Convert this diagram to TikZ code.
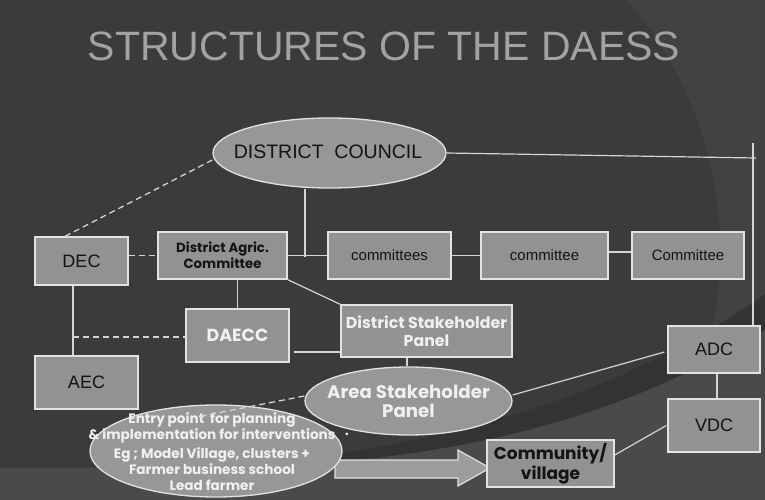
\documentclass[tikz,border=0pt]{standalone}
\usepackage{fontspec}
\setmainfont{Liberation Sans}
\newfontfamily\gothic{Poppins}
\usetikzlibrary{shapes.geometric,calc}
\definecolor{bg}{HTML}{3B3B3B}
\definecolor{bgright}{HTML}{424242}
\definecolor{bglow}{HTML}{4A4A4A}
\definecolor{bgshadow}{HTML}{333333}
\definecolor{boxfill}{HTML}{929292}
\definecolor{ellfill}{HTML}{979797}
\definecolor{boxline}{HTML}{E2E2E2}
\definecolor{conn}{HTML}{D4D4D4}
\definecolor{titlegray}{HTML}{A2A2A2}
\definecolor{darktext}{HTML}{141414}
\definecolor{lighttext}{HTML}{F0F0F0}
\definecolor{arrowfill}{HTML}{9C9C9C}
\tikzset{
  box/.style={draw=boxline, fill=boxfill, line width=1.3pt, rectangle, inner sep=0pt},
  ell/.style={draw=boxline, fill=ellfill, line width=1.3pt, ellipse, inner sep=0pt},
  arial/.style={text=darktext, font=\fontsize{18}{18}\selectfont},
  small/.style={text=darktext, font=\fontsize{15}{15}\selectfont},
  gdark/.style={text=darktext, align=center},
  glight/.style={text=lighttext, align=center},
  conline/.style={draw=conn, line width=1.2pt},
  dashline/.style={draw=conn, line width=1.3pt, dash pattern=on 6pt off 4pt}
}
\begin{document}
\begin{tikzpicture}[x=1pt,y=-1pt]
% background
\fill[bg] (0,0) rectangle (765,500);
\begin{scope}
  \clip (500,0) rectangle (765,500);
  \fill[bgright, even odd rule] (0,0) rectangle (765,500) (337,250) circle[radius=383];
\end{scope}
\begin{scope}
  \clip (0,0) rectangle (765,500);
  \fill[bgshadow] (240,467) .. controls (460,442) and (620,396) .. (765,294) -- (765,330)
     .. controls (620,420) and (450,462) .. (240,467) -- cycle;
  \fill[bglow] (0,468) -- (240,467) .. controls (450,462) and (620,420) .. (765,330)
     -- (765,500) -- (0,500) -- cycle;
\end{scope}
\useasboundingbox (0,0) rectangle (765,500);

% title
\node[text=titlegray, font=\fontsize{41}{41}\selectfont] (title) at (384,46) {STRUCTURES OF THE DAESS};

% nodes
\node[ell, minimum width=233pt, minimum height=70pt] (DC) at (329.5,153) {};
\node[text=darktext, font=\fontsize{19.5}{19.5}\selectfont] (DCt) at (328,152) {DISTRICT\ \ COUNCIL};

\node[box, minimum width=93pt, minimum height=48pt] (DEC) at (81.5,261) {};
\node[arial] (DECt) at (DEC.center) {DEC};
\node[box, minimum width=129pt, minimum height=47pt] (DAC) at (222.5,255.5) {};
\node[gdark, font=\gothic\bfseries\fontsize{13.3}{16}\selectfont] (DACt) at (DAC.center) {District Agric.\\Committee};
\node[box, minimum width=123pt, minimum height=47pt] (C1) at (389.5,255.5) {};
\node[small] (C1t) at (C1.center) {committees};
\node[box, minimum width=127pt, minimum height=47pt] (C2) at (544.5,255.5) {};
\node[small] (C2t) at (C2.center) {committee};
\node[box, minimum width=112pt, minimum height=47pt] (C3) at (688,255.5) {};
\node[small] (C3t) at (C3.center) {Committee};

\node[box, minimum width=103pt, minimum height=53pt] (DAECC) at (237.5,335.5) {};
\node[glight, font=\gothic\bfseries\fontsize{17.5}{17.5}\selectfont] (DAECCt) at (DAECC.center) {DAECC};
\node[box, minimum width=103pt, minimum height=53pt] (AEC) at (86.5,382.5) {};
\node[arial] (AECt) at (AEC.center) {AEC};
\node[box, minimum width=171pt, minimum height=52pt] (DSP) at (426.5,331) {};
\node[glight, font=\gothic\bfseries\fontsize{15.8}{18}\selectfont] (DSPt) at (DSP.center) {District Stakeholder\\Panel};

\node[box, minimum width=92pt, minimum height=47pt] (ADC) at (714,349.5) {};
\node[arial] (ADCt) at (ADC.center) {ADC};
\node[box, minimum width=92pt, minimum height=53pt] (VDC) at (714,425.5) {};
\node[arial] (VDCt) at (VDC.center) {VDC};

\node[ell, minimum width=207pt, minimum height=68pt] (ASP) at (408.5,401) {};
\node[glight, font=\gothic\bfseries\fontsize{18.2}{19}\selectfont] (ASPt) at (408.5,401) {Area Stakeholder\\Panel};

% big arrow
\draw[fill=arrowfill, draw=boxline, line width=1.2pt] (335,460) -- (458,460) -- (458,450) -- (490,468)
   -- (458,486) -- (458,478) -- (335,478) -- cycle;

\node[ell, minimum width=252pt, minimum height=92pt] (Entry) at (216,451) {};
\node[glight, font=\gothic\bfseries\fontsize{13.6}{16}\selectfont] (Entryt) at (212,452)
  {Entry point\ \ for planning\\\&~implementation for interventions\\[3pt]Eg ; Model Village, clusters +\\Farmer business school\\Lead farmer};
\node[text=lighttext, font=\gothic\bfseries\fontsize{13}{13}\selectfont] (dot) at (347,434) {.};

\node[box, minimum width=127pt, minimum height=47pt] (COM) at (550.5,463.5) {};
\node[gdark, font=\gothic\bfseries\fontsize{17}{20}\selectfont] (COMt) at (COM.center) {Community/\\village};

% connectors
\coordinate (j1) at (305,257);
\draw[conline] (j1 |- DC.south) -- (j1);
\draw[conline] (DAC.east) -- (C1.west);
\draw[conline] (C1.east) -- (C2.west);
\draw[conline] ([yshift=3.5pt]C2.east) -- ([yshift=3.5pt]C3.west);
\coordinate (rt) at (756,158);
\coordinate (vtop) at (753,143);
\draw[conline] (DC.east) -- (rt);
\draw[conline] (vtop) -- (vtop |- ADC.north);
\draw[dashline] ([xshift=-16.5pt]DEC.north) -- ([yshift=-7pt]DC.west);
\draw[dashline] (DAC.west -| DEC.east) -- (DAC.west);
\coordinate (x73) at (73,0);
\draw[conline] (DEC.south -| x73) -- (AEC.north -| x73);
\draw[dashline] ([yshift=-1.5pt]DAECC.west -| x73) -- ([yshift=-1.5pt]DAECC.west);
\draw[conline] (DAECC.north |- DAC.south) -- (DAECC.north);
\draw[conline] (DAC.south east) -- (DSP.north west);
\draw[conline] ([yshift=-16.5pt,xshift=4pt]DAECC.east) -- ([yshift=-16.5pt]DAECC.east -| DSP.west);
\draw[conline] ([xshift=-1.5pt]ASP.north |- DSP.south) -- ([xshift=-1.5pt]ASP.north);
\draw[conline] ([yshift=6pt]ASP.east) -- ([xshift=-3pt,yshift=-2.5pt]ADC.west);
\draw[conline] ([xshift=3pt]ADC.south) -- ([xshift=3pt]VDC.north);
\draw[conline] ([xshift=-1pt]VDC.west) -- ([yshift=8.5pt]COM.east);
\draw[dashline] ([yshift=5pt]ASP.west) -- ([xshift=-16pt,yshift=-12pt]Entry.north);
\end{tikzpicture}
\end{document}
